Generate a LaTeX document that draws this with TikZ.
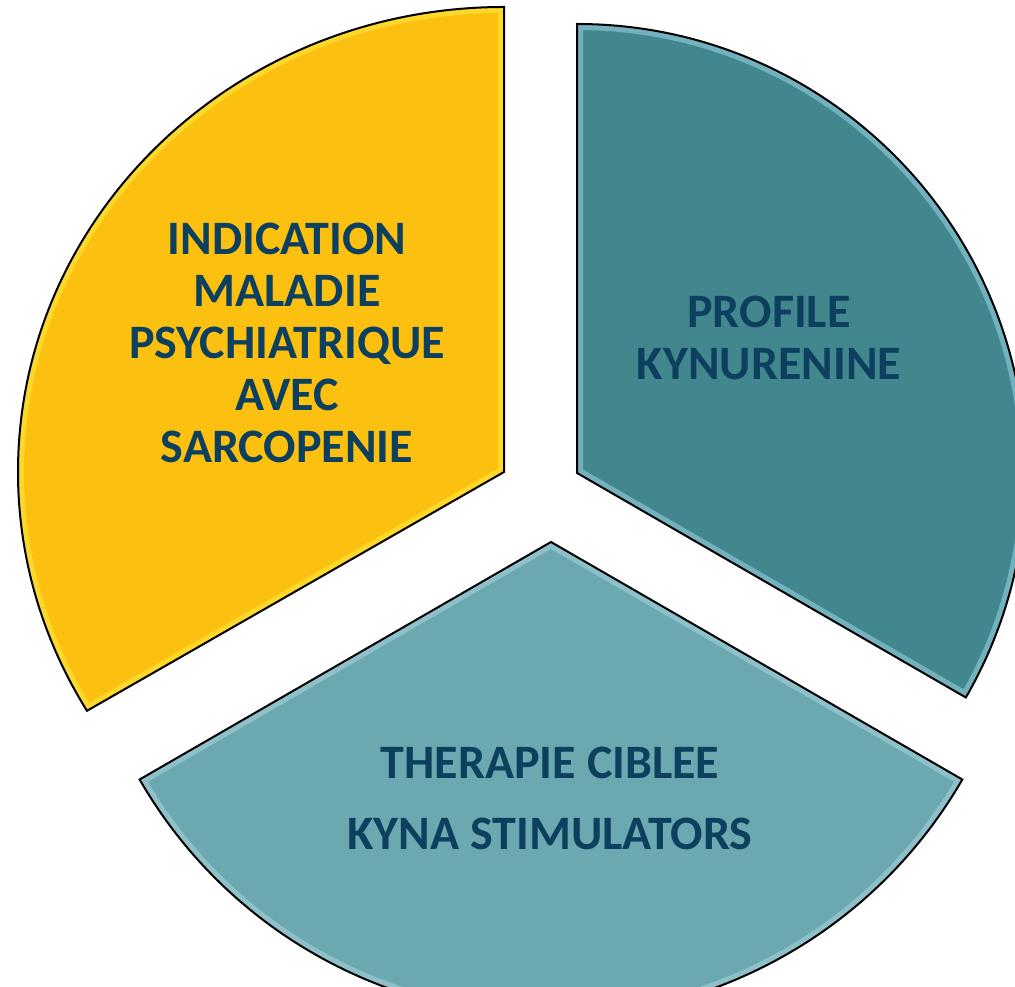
\documentclass[tikz,border=0pt]{standalone}
\usepackage{fontspec}
\setmainfont{Carlito}
\definecolor{yel}{HTML}{FBC010}
\definecolor{tealD}{HTML}{41878D}
\definecolor{tealL}{HTML}{6CA8AF}
\definecolor{navy}{HTML}{0D405E}
\begin{document}
\begin{tikzpicture}[x=1pt,y=1pt,
  sector/.style={draw=black,line width=2pt,line join=miter},
  bevel/.style={line width=12pt,opacity=0.45},
  lbl/.style={text=navy,font=\bfseries\fontsize{48}{52}\selectfont,align=center}]
\useasboundingbox (0,0) rectangle (1015,987);
\clip (0,0) rectangle (1015,987);
\def\yelpath{(504,515) -- (504,980) arc[start angle=90,end angle=210.9,x radius=486,y radius=465] -- cycle}
\def\tealpath{(577,514) -- (577,963) arc[start angle=90,end angle=-30,radius=449] -- cycle}
\def\botpath{(551,445) -- (139.6,207.5) arc[start angle=210,end angle=330,radius=475] -- cycle}
% yellow
\fill[yel] \yelpath;
\begin{scope}\clip \yelpath; \draw[bevel,draw=yellow!70!white] \yelpath; \end{scope}
\draw[sector] \yelpath;
% dark teal
\fill[tealD] \tealpath;
\begin{scope}\clip \tealpath; \draw[bevel,draw=cyan!30!white] \tealpath; \end{scope}
\draw[sector] \tealpath;
% light teal
\fill[tealL] \botpath;
\begin{scope}\clip \botpath; \draw[bevel,draw=cyan!20!white,opacity=0.35] \botpath; \end{scope}
\draw[sector] \botpath;
% labels
\node[lbl] (ind) at (287,644) {INDICATION\\MALADIE\\PSYCHIATRIQUE\\AVEC\\SARCOPENIE};
\node[lbl] (kyn) at (769,649) {PROFILE\\KYNURENINE};
\node[lbl] (ther) at (550,189) {THERAPIE CIBLEE\\[19pt]KYNA STIMULATORS};
\end{tikzpicture}
\end{document}
